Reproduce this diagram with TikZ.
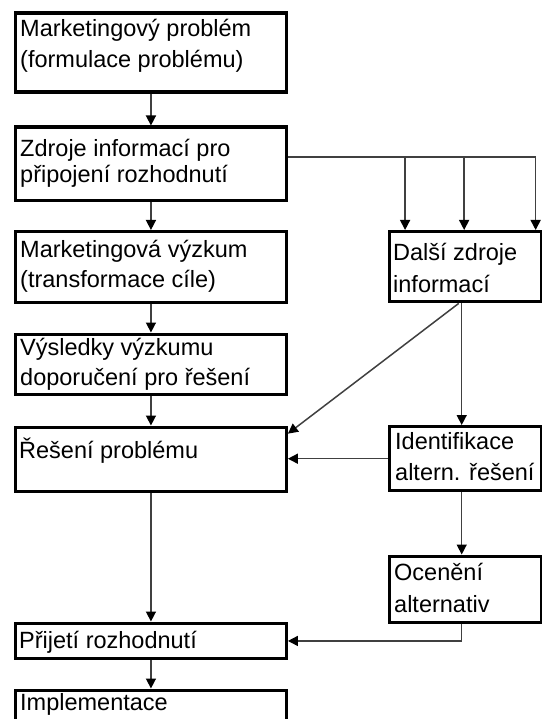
\documentclass[tikz,border=0pt]{standalone}
\usepackage{fontspec}
\setmainfont{Liberation Sans}
\usetikzlibrary{arrows.meta, calc}

\begin{document}
\begin{tikzpicture}[x=1pt, y=-1pt,
  box/.style={draw, line width=3.4pt, anchor=north west, inner sep=0pt},
  lbox/.style={box, minimum width=270.5pt},
  rbox/.style={box, minimum width=152pt},
  txt/.style={anchor=base west, inner sep=0pt, align=left, font=\fontsize{23.5}{30}\selectfont},
  link/.style={black!75, line width=1.5pt, -{Triangle[length=10pt, width=10pt, black]}}]

\useasboundingbox (0,0) rectangle (541,719);

% Left column
\node[lbox, minimum height=79pt]   (mp) at (14,11.5)  {};
\node[lbox, minimum height=73.5pt] (zi) at (14,125.5) {};
\node[lbox, minimum height=70.5pt] (mv) at (14,230)   {};
\node[lbox, minimum height=60pt]   (vv) at (14,332.5) {};
\node[lbox, minimum height=64.5pt] (rp) at (14,425.5) {};
\node[lbox, minimum height=35.5pt] (pr) at (14,621.5) {};
\node[lbox, minimum height=60pt]   (im) at (14,688.5) {};

% Right column
\node[rbox, minimum height=70pt] (dz) at (388,230)   {};
\node[rbox, minimum height=64pt] (ia) at (388,425)   {};
\node[rbox, minimum height=66pt] (oa) at (388,554.5) {};

% Texts (anchored at the baseline of the last line)
\node[txt] (tmp) at (20,68)  {Marketingový problém\\[1.5pt](formulace problému)};
\node[txt] (tzi) at (20,183) {Zdroje informací pro\\[-4pt]připojení rozhodnutí};
\node[txt] (tmv) at (20,287) {Marketingová výzkum\\(transformace cíle)};
\node[txt] (tvv) at (20,385) {Výsledky výzkumu\\doporučení pro řešení};
\node[txt] (trp) at (19,458) {Řešení problému};
\node[txt] (tpr) at (19,648) {Přijetí rozhodnutí};
\node[txt] (tim) at (20,710) {Implementace};
\node[txt] (tdz) at (393,292) {Další zdroje\\[2pt]informací};
\node[txt] (tia) at (395,480) {Identifikace\\[1pt]altern. řešení};
\node[txt] (toa) at (394,612) {Ocenění\\[2pt]alternativ};

% Main chain
\draw[link] (mp.south) -- (zi.north);
\draw[link] (zi.south) -- (mv.north);
\draw[link] (mv.south) -- (vv.north);
\draw[link] (vv.south) -- (rp.north);
\draw[link] (rp.south) -- (pr.north);
\draw[link] (pr.south) -- (im.north);

% Branch to other sources
\coordinate (bus) at ($(zi.north east)!0.41!(zi.south east)$);
\foreach \p in {0.11,0.49,0.95}
  \draw[link] (bus) -| ($(dz.north west)!\p!(dz.north east)$);

% Right column links
\coordinate (rx) at ($(dz.south)+(-4,0)$);
\draw[link] (rx) -- (ia.north -| rx);
\draw[link] ($(dz.south)+(-7,0)$) -- ($(rp.north east)!0.12!(rp.south east)$);
\draw[link] (ia.west) -- (ia.west -| rp.east);
\draw[link] (ia.south -| rx) -- (oa.north -| rx);
\draw[link] (oa.south -| rx) |- (pr.east);

\end{tikzpicture}
\end{document}
